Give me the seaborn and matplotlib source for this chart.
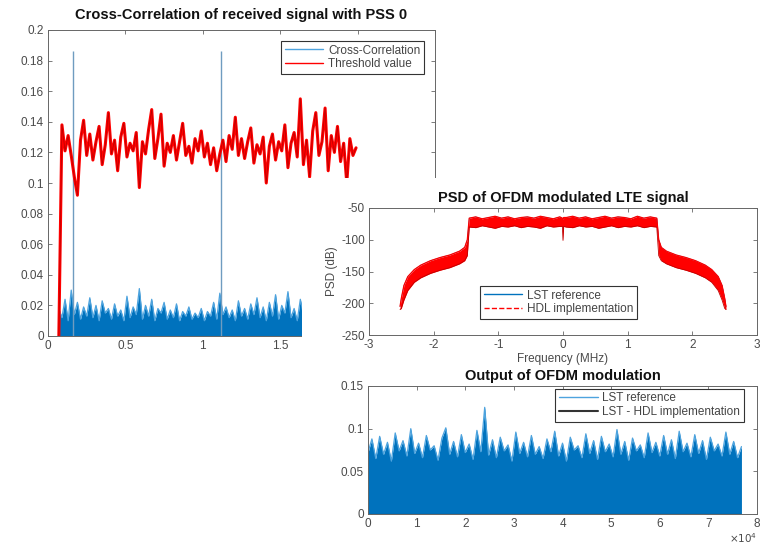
import numpy as np
import pandas as pd
import matplotlib
matplotlib.use("Agg")
import matplotlib.pyplot as plt
import seaborn as sns
from matplotlib.patches import Rectangle
from matplotlib.ticker import FuncFormatter, MultipleLocator
from matplotlib.lines import Line2D

# ---------------- data ----------------
# Panel 1: cross-correlation with PSS 0 (x in axis units, sampled every 0.02)
xcorr_start = 0.07
xcorr_step = 0.02
threshold_vals = [
    0.000, 0.138, 0.121, 0.131, 0.118, 0.104, 0.092, 0.128, 0.141, 0.118,
    0.132, 0.115, 0.127, 0.137, 0.112, 0.125, 0.146, 0.119, 0.128, 0.108,
    0.130, 0.139, 0.117, 0.126, 0.121, 0.133, 0.097, 0.127, 0.119, 0.135,
    0.148, 0.116, 0.129, 0.145, 0.111, 0.126, 0.120, 0.131, 0.115, 0.127,
    0.139, 0.118, 0.124, 0.113, 0.129, 0.121, 0.134, 0.117, 0.126, 0.112,
    0.123, 0.108, 0.119, 0.128, 0.114, 0.131, 0.122, 0.143, 0.118, 0.129,
    0.116, 0.127, 0.136, 0.113, 0.125, 0.119, 0.130, 0.100, 0.124, 0.132,
    0.115, 0.127, 0.121, 0.138, 0.110, 0.126, 0.133, 0.117, 0.155, 0.112,
    0.128, 0.104, 0.134, 0.146, 0.118, 0.127, 0.149, 0.108, 0.131, 0.120,
    0.137, 0.114, 0.126, 0.100, 0.129, 0.118, 0.123]
xcorr_vals = [
    0.018, 0.012, 0.024, 0.010, 0.030, 0.014, 0.022, 0.011, 0.019, 0.013,
    0.025, 0.012, 0.020, 0.010, 0.023, 0.015, 0.018, 0.011, 0.021, 0.013,
    0.017, 0.010, 0.026, 0.012, 0.019, 0.014, 0.031, 0.011, 0.020, 0.013,
    0.024, 0.010, 0.018, 0.015, 0.022, 0.011, 0.017, 0.012, 0.021, 0.010,
    0.016, 0.013, 0.019, 0.011, 0.015, 0.012, 0.018, 0.010, 0.016, 0.013,
    0.022, 0.011, 0.028, 0.014, 0.019, 0.012, 0.017, 0.010, 0.023, 0.013,
    0.018, 0.011, 0.021, 0.014, 0.025, 0.012, 0.019, 0.010, 0.022, 0.013,
    0.027, 0.011, 0.020, 0.015, 0.029, 0.012, 0.018, 0.010, 0.024, 0.014,
    0.033, 0.012, 0.026, 0.011, 0.021, 0.015, 0.039, 0.013, 0.024, 0.011,
    0.028, 0.014, 0.022, 0.012, 0.020, 0.013, 0.025]
peak_pos = [0.16, 1.12]
peak_vals = [0.186, 0.186]

# Panel 2: PSD of OFDM modulated LTE signal (band upper / lower edges, dB)
psd_freq = [-2.52, -2.50, -2.46, -2.40, -2.30, -2.20, -2.05, -1.90, -1.75, -1.60, -1.52, -1.48,
            -1.45, -1.35, -1.25, -1.15, -1.05, -0.95, -0.85, -0.75, -0.65, -0.55, -0.45, -0.35,
            -0.25, -0.15, -0.05, -0.01, 0.0, 0.01, 0.05, 0.15, 0.25, 0.35, 0.45, 0.55, 0.65,
            0.75, 0.85, 0.95, 1.05, 1.15, 1.25, 1.35, 1.45,
            1.48, 1.52, 1.60, 1.75, 1.90, 2.05, 2.20, 2.30, 2.40, 2.46, 2.50, 2.52]
psd_upper = [-205, -192, -172, -158, -147, -140, -133, -128, -124, -118, -112, -100,
             -66, -64, -67, -65, -63, -66, -64, -67, -65, -64, -66, -63,
             -65, -67, -64, -66, -68, -65, -65, -63, -66, -64, -67, -65,
             -63, -66, -64, -65, -67, -63, -66, -64, -66,
             -100, -112, -118, -124, -128, -133, -140, -147, -158, -172, -192, -205]
psd_lower = [-210, -208, -195, -180, -167, -160, -153, -148, -144, -138, -133, -125,
             -80, -81, -78, -80, -82, -79, -80, -78, -81, -79, -80, -82,
             -78, -80, -79, -79, -101, -79, -80, -81, -78, -80, -79, -82,
             -80, -78, -81, -79, -80, -78, -81, -79, -80,
             -125, -133, -138, -144, -148, -153, -160, -167, -180, -195, -208, -210]

# Panel 3: output of OFDM modulation (sampled every 800 samples)
ofdm_step = 800
ofdm_vals = [
    0.072, 0.088, 0.065, 0.091, 0.070, 0.084, 0.062, 0.095, 0.074, 0.086,
    0.068, 0.100, 0.071, 0.083, 0.066, 0.092, 0.075, 0.080, 0.063, 0.089,
    0.101, 0.070, 0.085, 0.067, 0.093, 0.072, 0.082, 0.064, 0.098, 0.073,
    0.125, 0.069, 0.087, 0.066, 0.090, 0.074, 0.081, 0.062, 0.096, 0.071,
    0.084, 0.067, 0.092, 0.070, 0.079, 0.065, 0.088, 0.073, 0.097, 0.068,
    0.083, 0.062, 0.090, 0.075, 0.080, 0.066, 0.094, 0.071, 0.086, 0.064,
    0.091, 0.073, 0.082, 0.067, 0.099, 0.070, 0.085, 0.063, 0.089, 0.074,
    0.081, 0.066, 0.095, 0.072, 0.084, 0.068, 0.092, 0.070, 0.087, 0.065,
    0.097, 0.073, 0.083, 0.067, 0.093, 0.071, 0.086, 0.064, 0.090, 0.074,
    0.082, 0.068, 0.096, 0.070, 0.085, 0.066, 0.079]
ofdm_diff = [0.0, 0.0]

# ---------------- figure ----------------
sns.set_style("ticks")
plt.rcParams['font.family'] = ['Liberation Sans', 'DejaVu Sans']
plt.rcParams['axes.unicode_minus'] = False

W, H = 763, 547
fig = plt.figure(figsize=(W / 100, H / 100), dpi=100)


def px(l, t, r, b):
    return [l / W, 1 - b / H, (r - l) / W, (b - t) / H]


BLUE = '#0072BD'
LBLUE = '#4DA3DE'
RED = '#FF0000'
GRAY = '#4a4a4a'
gfmt = FuncFormatter(lambda v, p: '%g' % v)


def matlab(ax):
    for s in ax.spines.values():
        s.set_visible(True)
        s.set_color('#666666')
        s.set_linewidth(0.7)
    ax.tick_params(direction='in', length=3, width=0.6, color='#666666',
                   labelcolor=GRAY, labelsize=8.5, top=True, right=True, pad=3)


def leg(ax, handles, labels, anchor):
    lg = ax.legend(handles, labels, loc='upper left', bbox_to_anchor=anchor,
                   fontsize=8.5, frameon=True, fancybox=False, framealpha=1,
                   edgecolor='#333333', borderpad=0.3, labelspacing=0.15,
                   handlelength=3.3, handletextpad=0.4, borderaxespad=0)
    lg.get_frame().set_linewidth(0.8)
    for t in lg.get_texts():
        t.set_color('#444444')
    return lg


# ---- panel 1 ----
ax1 = fig.add_axes(px(48, 30, 435, 336))
ax1.set_zorder(1)
n1 = len(threshold_vals)
x1 = xcorr_start + xcorr_step * np.arange(n1)
df1 = pd.DataFrame({'x': x1, 'thr': threshold_vals, 'xc': xcorr_vals})
ax1.fill_between(df1['x'], 0, df1['xc'], color=BLUE, lw=0)
sns.lineplot(data=df1, x='x', y='xc', ax=ax1, color=LBLUE, lw=0.9, legend=False)
ax1.vlines(peak_pos, 0, peak_vals, color='#6f9cc0', lw=1.0)
sns.lineplot(data=df1, x='x', y='thr', ax=ax1, color=RED, lw=2.2, legend=False)
sns.lineplot(data=df1, x='x', y='thr', ax=ax1, color='#b80000', lw=0.5, legend=False)
ax1.set_xlim(0, 2.5)
ax1.set_ylim(0, 0.2)
ax1.xaxis.set_major_locator(MultipleLocator(0.5))
ax1.yaxis.set_major_locator(MultipleLocator(0.02))
# labels right of 1.5 lie under the overlaid panels
ax1.xaxis.set_major_formatter(FuncFormatter(lambda v, p: '%g' % v if v <= 1.5 else ''))
ax1.yaxis.set_major_formatter(gfmt)
ax1.set_xlabel('')
ax1.set_ylabel('')
matlab(ax1)
ax1.set_title('Cross-Correlation of received signal with PSS 0', fontsize=10.5,
              fontweight='bold', pad=8, color='#111111')
leg(ax1, [Line2D([], [], color=LBLUE, lw=1), Line2D([], [], color=RED, lw=1)],
    ['Cross-Correlation', 'Threshold value'], (0.602, 0.964))

# white background of the overlaid panels
fig.add_artist(Rectangle((302 / W, 0), 461 / W, 369 / H, transform=fig.transFigure,
                         facecolor='white', edgecolor='none', zorder=2))

# ---- panel 2 ----
ax2 = fig.add_axes(px(369, 208, 757, 335))
ax2.set_zorder(3)
df2 = pd.DataFrame({'f': psd_freq, 'up': psd_upper, 'lo': psd_lower})
sns.lineplot(data=df2, x='f', y='up', ax=ax2, color=BLUE, lw=0.4, legend=False)
ax2.fill_between(df2['f'], df2['lo'], df2['up'], color=RED, lw=0)
sns.lineplot(data=df2, x='f', y='up', ax=ax2, color=RED, lw=0.9, legend=False)
sns.lineplot(data=df2, x='f', y='lo', ax=ax2, color='#c00000', lw=0.6, legend=False)
ax2.set_xlim(-3, 3)
ax2.set_ylim(-250, -50)
ax2.xaxis.set_major_locator(MultipleLocator(1))
ax2.yaxis.set_major_locator(MultipleLocator(50))
matlab(ax2)
ax2.set_xlabel('Frequency (MHz)', fontsize=8.5, color=GRAY, labelpad=1)
ax2.set_ylabel('PSD (dB)', fontsize=8.5, color=GRAY, labelpad=2)
ax2.set_title('PSD of OFDM modulated LTE signal', fontsize=10.5, fontweight='bold',
              pad=4, color='#111111')
leg(ax2, [Line2D([], [], color=BLUE, lw=1), Line2D([], [], color=RED, lw=1, ls='--')],
    ['LST reference', 'HDL implementation'], (0.286, 0.386))

# ---- panel 3 ----
ax3 = fig.add_axes(px(368, 386, 757, 514))
ax3.set_zorder(3)
x3 = ofdm_step * np.arange(len(ofdm_vals))
df3 = pd.DataFrame({'n': x3, 'v': ofdm_vals})
ax3.fill_between(df3['n'], 0, df3['v'], color=BLUE, lw=0)
sns.lineplot(data=df3, x='n', y='v', ax=ax3, color=LBLUE, lw=0.9, legend=False)
ax3.plot([0, x3[-1]], ofdm_diff, color='#222222', lw=0.8)
ax3.set_xlim(0, 80000)
ax3.set_ylim(0, 0.15)
ax3.xaxis.set_major_locator(MultipleLocator(10000))
ax3.yaxis.set_major_locator(MultipleLocator(0.05))
ax3.xaxis.set_major_formatter(FuncFormatter(lambda v, p: '%g' % (v / 1e4)))
ax3.yaxis.set_major_formatter(gfmt)
ax3.set_xlabel('')
ax3.set_ylabel('')
matlab(ax3)
ax3.text(1.0, -0.245, r'$\times10^{4}$', transform=ax3.transAxes, ha='right',
         va='bottom', fontsize=7.5, color=GRAY)
ax3.set_title('Output of OFDM modulation', fontsize=10.5, fontweight='bold',
              pad=4, color='#111111')
leg(ax3, [Line2D([], [], color=LBLUE, lw=1), Line2D([], [], color='#333333', lw=1.5)],
    ['LST reference', 'LST - HDL implementation'], (0.481, 0.977))

fig.savefig('out.png', dpi=100)
